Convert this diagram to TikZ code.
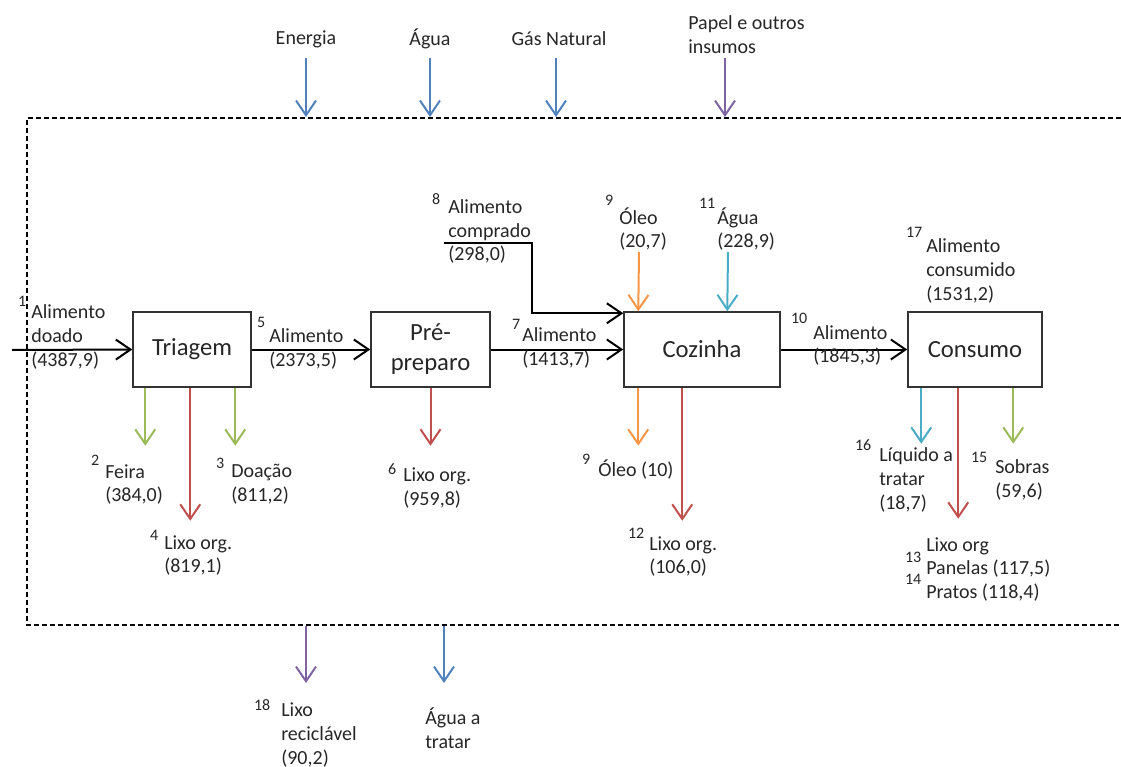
\documentclass[tikz,border=0pt]{standalone}
\usepackage{fontspec}
\setmainfont{Carlito}
\usetikzlibrary{arrows.meta,calc}
\definecolor{cgreen}{HTML}{9BBB59}
\definecolor{cred}{HTML}{C0504D}
\definecolor{cblue}{HTML}{4F81BD}
\definecolor{cpurple}{HTML}{8064A2}
\definecolor{corange}{HTML}{F79646}
\definecolor{ccyan}{HTML}{4BACC6}
\definecolor{txt}{HTML}{262626}
\definecolor{boxc}{HTML}{333333}
\newcommand\nr[3]{\llap{\smash{\raisebox{#2pt}{\fontsize{12}{12}\selectfont #1}}\kern#3pt}}
\begin{document}
\begin{tikzpicture}[x=0.75pt,y=-0.75pt,
 lbl/.style={font=\fontsize{15}{17.8}\selectfont, align=left, inner sep=0pt, anchor=west, text=txt},
 ttl/.style={font=\fontsize{15}{17.8}\selectfont, inner sep=0pt, text=txt},
 proc/.style={draw=boxc, line width=1.1pt, minimum height=56.25pt, inner sep=0pt, font=\fontsize{18.5}{22.5}\selectfont, align=center, text=txt},
 flow/.style={line width=1.5pt, -{Straight Barb[length=11pt,width=15pt]}},
 frame/.style={dash pattern=on 3.75pt off 2.25pt, line width=0.9pt}
]
\useasboundingbox (0,0) rectangle (1121,767);

% frame
\coordinate (fr1) at (1121,118);
\coordinate (fr2) at (27,118);
\coordinate (fr3) at (27,625);
\coordinate (fr4) at (1121,625);
\draw[frame] (fr1) -- (fr2) -- (fr3) -- (fr4);

% process boxes
\node[proc, minimum width=88.5pt] (tri) at (192,349.5) {Triagem};
\node[proc, minimum width=89.25pt] (pre) at (430.5,349.5) {Pré-\\preparo};
\node[proc, minimum width=117pt] (coz) at (702,349.5) {Cozinha};
\node[proc, minimum width=100.5pt] (con) at (975,349.5) {Consumo};

% main flow
\coordinate (in1) at (12,350);
\draw[flow] (in1) -- (tri.west);
\draw[flow] (tri.east) -- (pre.west);
\draw[flow] (pre.east) -- (coz.west);
\draw[flow] (coz.east) -- (con.west);
\coordinate (c8) at (444,243);
\draw[flow] (c8) -| ($(coz.north west)+(-91,2)$) -- ($(coz.north west)+(0,2)$);

% outputs of Triagem
\draw[flow, cgreen] ($(tri.south west)+(13,0)$) -- ++(0,58);
\draw[flow, cred] ($(tri.south west)+(58,0)$) -- ++(0,133);
\draw[flow, cgreen] ($(tri.south west)+(103,0)$) -- ++(0,58);
% Pre-preparo
\draw[flow, cred] (pre.south) -- ++(0,58);
% Cozinha
\coordinate (o9) at (639,252);
\coordinate (a11) at (728,252);
\draw[flow, corange] (o9) -- ($(coz.north west)+(15,0)$);
\draw[flow, ccyan] (a11) -- ($(coz.north west)+(104,0)$);
\draw[flow, corange] ($(coz.south west)+(15,0)$) -- ++(0,58);
\draw[flow, cred] ($(coz.south west)+(59,0)$) -- ++(0,133);
% Consumo
\draw[flow, ccyan] ($(con.south west)+(14,0)$) -- ++(0,56);
\draw[flow, cred] ($(con.south west)+(51,0)$) -- ++(0,131);
\draw[flow, cgreen] ($(con.south west)+(106,0)$) -- ++(0,56);

% external inputs
\node[ttl] (tEn) at (306,39) {Energia};
\node[ttl] (tAg) at (430,39) {Água};
\node[ttl] (tGas) at (559,39) {Gás Natural};
\node[lbl] (tPap) at (688,34.5) {Papel e outros\\insumos};
\coordinate (e1) at (306,58); \coordinate (e1e) at (306,117);
\coordinate (e2) at (430,58); \coordinate (e2e) at (430,117);
\coordinate (e3) at (556,58); \coordinate (e3e) at (556,117);
\coordinate (e4) at (725,58); \coordinate (e4e) at (725,117);
\draw[flow, cblue] (e1) -- (e1e);
\draw[flow, cblue] (e2) -- (e2e);
\draw[flow, cblue] (e3) -- (e3e);
\draw[flow, cpurple] (e4) -- (e4e);

% external outputs
\coordinate (b1) at (306,626); \coordinate (b1e) at (306,683);
\coordinate (b2) at (444,626); \coordinate (b2e) at (444,683);
\draw[flow, cpurple] (b1) -- (b1e);
\draw[flow, cblue] (b2) -- (b2e);
\node[lbl] (l18) at (281,735) {\nr{18}{4.75}{8.25}Lixo\\reciclável\\(90,2)};
\node[lbl] (lAt) at (425,728.5) {Água a\\tratar};

% flow labels
\node[lbl] (l1) at (31,337) {\nr{1}{9}{3.75}Alimento\\doado\\(4387,9)};
\node[lbl] (l2) at (105,484.5) {\nr{2}{9.25}{4.5}Feira\\(384,0)};
\node[lbl] (l3) at (231,484.5) {\nr{3}{7}{5.25}Doação\\(811,2)};
\node[lbl] (l4) at (164,555.5) {\nr{4}{6.25}{4.5}Lixo org.\\(819,1)};
\node[lbl] (l5) at (269,349) {\nr{5}{11.5}{3}Alimento\\(2373,5)};
\node[lbl] (l6) at (403,488) {\nr{6}{5.5}{5.25}Lixo org.\\(959,8)};
\node[lbl] (l7) at (522,348) {\nr{7}{9.25}{1.5}Alimento\\(1413,7)};
\node[lbl] (l8) at (448,231.5) {\nr{8}{6.25}{6}Alimento\\comprado\\(298,0)};
\node[lbl] (l9a) at (619,229) {\nr{9}{13.75}{4.5}Óleo\\(20,7)};
\node[lbl] (l11) at (717,229) {\nr{11}{11.5}{1.5}Água\\(228,9)};
\node[lbl] (l9b) at (598,470) {\nr{9}{9.25}{6}Óleo (10)};
\node[lbl] (l12) at (649,556.5) {\nr{12}{8.5}{3.75}Lixo org.\\(106,0)};
\node[lbl] (l10) at (813,345.5) {\nr{10}{11.5}{4.5}Alimento\\(1845,3)};
\node[lbl] (l17) at (926,271) {\nr{17}{11.5}{3}Alimento\\consumido\\(1531,2)};
\node[lbl] (l16) at (879,480) {\nr{16}{8.5}{6}Líquido a\\tratar\\(18,7)};
\node[lbl] (l15) at (995,480) {\nr{15}{8.5}{6}Sobras\\(59,6)};
\node[lbl] (l13) at (926,569.5) {Lixo org\\\nr{13}{9.25}{3.75}Panelas (117,5)\\\nr{14}{10.75}{3.75}Pratos (118,4)};
\end{tikzpicture}
\end{document}
